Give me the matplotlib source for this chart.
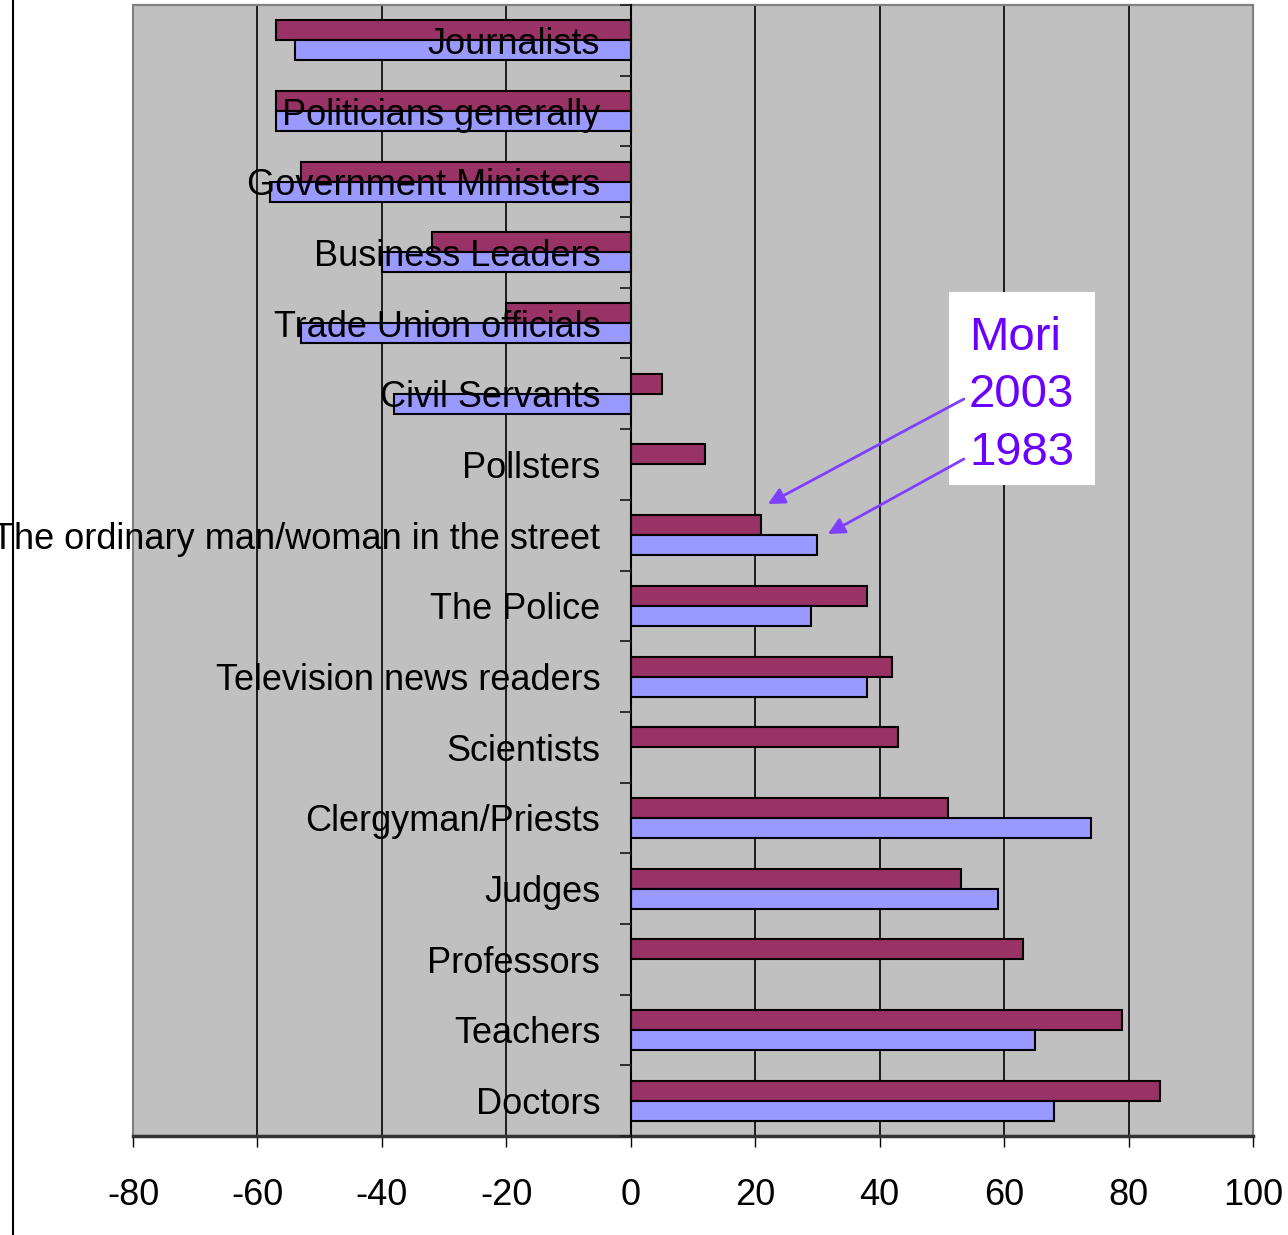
import matplotlib
matplotlib.use("Agg")
import matplotlib.pyplot as plt
from matplotlib.patches import Rectangle
from matplotlib.ticker import FixedLocator
from matplotlib.lines import Line2D
import numpy as np

plt.rcParams['font.family'] = ['Liberation Sans', 'DejaVu Sans']

categories = ["Journalists", "Politicians generally", "Government Ministers",
              "Business Leaders", "Trade Union officials", "Civil Servants",
              "Pollsters", "The ordinary man/woman in the street", "The Police",
              "Television news readers", "Scientists", "Clergyman/Priests",
              "Judges", "Professors", "Teachers", "Doctors"]
mori_2003 = [-57, -57, -53, -32, -20, 5, 12, 21, 38, 42, 43, 51, 53, 63, 79, 85]
mori_1983 = [-54, -57, -58, -40, -53, -38, np.nan, 30, 29, 38, np.nan, 74, 59, np.nan, 65, 68]
xticks = [-80, -60, -40, -20, 0, 20, 40, 60, 80, 100]
legend_title = "Mori"
legend_years = ["2003", "1983"]

W, H = 1288, 1235
fig = plt.figure(figsize=(W / 100, H / 100), dpi=100)
ax = fig.add_axes([133 / W, 1 - 1136 / H, (1253 - 133) / W, (1136 - 5) / H])
ax.set_facecolor('#C0C0C0')

n = len(categories)
pos = np.arange(n)
bh = 0.283
ax.barh(pos - bh / 2, mori_2003, height=bh, color='#993366', edgecolor='black', linewidth=1.5, zorder=2)
ax.barh(pos + bh / 2, mori_1983, height=bh, color='#9999FF', edgecolor='black', linewidth=1.5, zorder=2)

ax.spines['left'].set_position(('data', 0))
ax.spines['left'].set_color('black')
ax.spines['left'].set_linewidth(1.5)
ax.spines['left'].set_zorder(3)
ax.spines['bottom'].set_color('#333333')
ax.spines['bottom'].set_linewidth(2.5)
for s in ['top', 'right']:
    ax.spines[s].set_color('#808080')
    ax.spines[s].set_linewidth(1.5)
ax.add_patch(Rectangle((0, 0), 1, 1, transform=ax.transAxes, fill=False,
                       edgecolor='#808080', linewidth=1.5, zorder=0.8, clip_on=False))

ax.set_xlim(-80, 100)
ax.set_ylim(n - 0.5, -0.5)
ax.set_xticks(xticks)
ax.set_xticklabels([str(v) for v in xticks], fontsize=26)
ax.tick_params(axis='x', direction='out', length=8, width=1, color='black', pad=22)

ax.set_yticks(pos)
ax.set_yticklabels(categories, fontsize=26)
ax.yaxis.set_minor_locator(FixedLocator(np.arange(-0.5, n, 1.0)))
ax.tick_params(axis='y', which='major', length=0, pad=22, labelsize=26)
ax.tick_params(axis='y', which='minor', length=8, width=1.3, color='#222222', direction='out')
for lbl in ax.get_yticklabels():
    lbl.set_y(lbl.get_position()[1])

ax.grid(axis='x', color='black', linewidth=1.2)
ax.set_axisbelow(True)
ax.yaxis.set_zorder(3)

# outer frame left edge
fig.add_artist(Line2D([13 / W, 13 / W], [0, 1], transform=fig.transFigure, color='black', linewidth=1.5))

# annotation box
purple = '#6A00FF'
def fx(px):
    return px / W
def fy(py):
    return 1 - py / H
ax.add_patch(Rectangle((fx(949), fy(485)), (1095 - 949) / W, (485 - 292) / H,
                       transform=fig.transFigure, facecolor='white', edgecolor='none',
                       zorder=4, clip_on=False))
for txt, base in zip([legend_title] + legend_years, [350, 407, 465]):
    ax.text(fx(969), fy(base), txt, fontsize=34, color=purple, ha='left', va='baseline',
            transform=fig.transFigure, zorder=5)

def to_data(px, py):
    return ((px - 631) / (1253 - 631) * 100, (py - 5) / ((1136 - 5) / n) - 0.5)

arrow_col = '#7F3FFF'
for (sx, sy), (ex, ey) in [((964, 399), (768, 504)), ((964, 459), (828, 534))]:
    ax.annotate('', xy=to_data(ex, ey), xytext=to_data(sx, sy),
                arrowprops=dict(arrowstyle='-|>,head_length=1.0,head_width=0.5',
                                color=arrow_col, lw=2, shrinkA=0, shrinkB=0),
                zorder=6, annotation_clip=False)

fig.savefig('out.png', dpi=100)
